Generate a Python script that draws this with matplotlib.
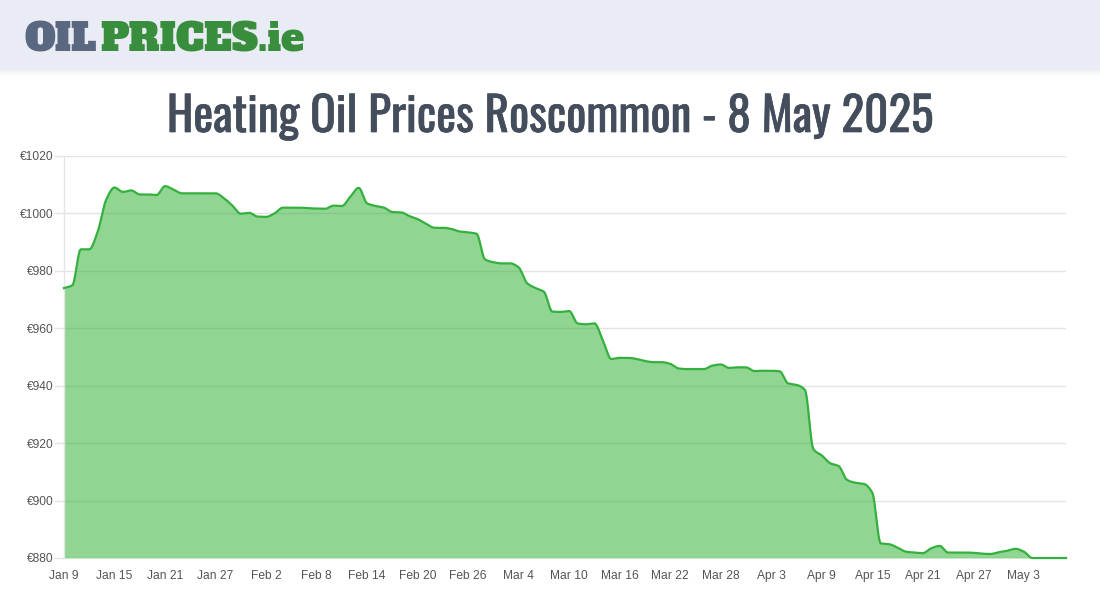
import numpy as np
import matplotlib
matplotlib.use("Agg")
import matplotlib.pyplot as plt
from matplotlib.patches import Rectangle
from matplotlib import patheffects as pe

prices = [974, 975, 987.5, 987.5, 993.6, 1004.7, 1009, 1007.5, 1008, 1006.6,
          1006.6, 1006.4, 1009.5, 1008.3, 1007, 1007, 1007, 1007, 1007, 1005.3,
          1002.7, 999.9, 1000.2, 998.9, 998.8, 1000, 1002, 1002, 1002, 1001.8,
          1001.7, 1001.6, 1002.7, 1002.6, 1005.8, 1008.9, 1003.5, 1002.6, 1002, 1000.5,
          1000.4, 999.1, 998, 996.4, 995, 995, 994.6, 993.7, 993.4, 992.9,
          984, 983, 982.6, 982.6, 981.2, 975.7, 974, 972.7, 965.8, 965.7,
          966, 961.7, 961.4, 961.7, 955.7, 949.3, 949.7, 949.7, 949.3, 948.6,
          948.2, 948.2, 947.6, 946, 945.8, 945.8, 945.8, 947, 947.4, 946.2,
          946.4, 946.4, 945.1, 945.2, 945.2, 945, 940.8, 940.3, 938.5, 917.9,
          915.7, 913, 912, 907.2, 906.2, 905.8, 902.7, 885.1, 884.8, 883.6,
          882.2, 881.9, 881.7, 883.4, 884.2, 881.9, 881.9, 881.9, 881.8, 881.5,
          881.4, 882, 882.5, 883.2, 882.2, 880, 880, 880, 880, 880]
y_ticks = [880, 900, 920, 940, 960, 980, 1000, 1020]
x_labels = ["Jan 9", "Jan 15", "Jan 21", "Jan 27", "Feb 2", "Feb 8", "Feb 14", "Feb 20",
            "Feb 26", "Mar 4", "Mar 10", "Mar 16", "Mar 22", "Mar 28", "Apr 3", "Apr 9",
            "Apr 15", "Apr 21", "Apr 27", "May 3"]
title_text = "Heating Oil Prices Roscommon - 8 May 2025"

plt.rcParams["font.family"] = ["Liberation Sans", "DejaVu Sans"]

W, H = 1100, 600
fig = plt.figure(figsize=(W / 100, H / 100), dpi=100, facecolor="white")

for k in range(10):
    a = 0.055 * (1 - k / 10) ** 2
    fig.add_artist(Rectangle((0, 1 - (70 + k + 1) / H), 1, 1 / H, transform=fig.transFigure,
                             facecolor="black", alpha=a, edgecolor="none"))
fig.add_artist(Rectangle((0, 1 - 70 / H), 1, 70 / H, transform=fig.transFigure,
                         facecolor="#e9ecf4", edgecolor="none"))

logo_font = ["Alfa Slab One", "DejaVu Serif"]
logo_kw = dict(fontfamily=logo_font, fontsize=28, va="baseline", ha="left")
fig.text(24 / W, 1 - 51.5 / H, "OIL", color="#5a6780", **logo_kw)
fig.text(100 / W, 1 - 51.5 / H, "PRICES.ie", color="#388e3c", **logo_kw)

fig.text(550 / W, 1 - 132 / H, title_text, fontfamily=["Oswald", "Liberation Sans"], fontsize=34,
         fontweight="medium", color="#434d5c", ha="center", va="baseline",
         path_effects=[pe.withStroke(linewidth=0.5, foreground="#434d5c")])

left, right, top, bottom = 64, 1066, 156, 558
ax = fig.add_axes([left / W, 1 - bottom / H, (right - left) / W, (bottom - top) / H])

y = np.array(prices, dtype=float)
x = np.arange(len(y), dtype=float)

# Monotone cubic drawing of the daily values
def monotone(xv, yv, n=12):
    d = np.diff(yv) / np.diff(xv)
    m = np.zeros_like(yv)
    m[0], m[-1] = d[0], d[-1]
    for i in range(1, len(yv) - 1):
        if d[i - 1] * d[i] > 0:
            m[i] = 2 * d[i - 1] * d[i] / (d[i - 1] + d[i])
    t = np.linspace(0, 1, n, endpoint=False)
    xs, ys = [], []
    for i in range(len(yv) - 1):
        h = xv[i + 1] - xv[i]
        xs.append(xv[i] + t * h)
        ys.append((2*t**3 - 3*t**2 + 1) * yv[i] + (t**3 - 2*t**2 + t) * h * m[i]
                  + (-2*t**3 + 3*t**2) * yv[i + 1] + (t**3 - t**2) * h * m[i + 1])
    xs.append([xv[-1]]); ys.append([yv[-1]])
    return np.concatenate(xs), np.concatenate(ys)

sx, sy = monotone(x, y)
ax.set_axisbelow(True)
ax.yaxis.grid(True, color="#e4e4e4", linewidth=1)
ax.fill_between(sx, 880, sy, color=(37/255, 173/255, 39/255), alpha=0.5, linewidth=0, zorder=2)
ax.plot(sx, sy, color="#33b03d", linewidth=1.6, zorder=3, clip_on=False, solid_joinstyle="round")

ax.set_xlim(0, len(y) - 1)
ax.set_ylim(880, 1020)
ax.set_yticks(y_ticks)
ax.set_yticklabels(["€%d" % v for v in y_ticks])
ax.set_xticks(np.arange(len(x_labels)) * 6)
ax.set_xticklabels(x_labels)
ax.tick_params(axis="y", length=7, width=1, color="#e4e4e4", labelsize=8.64, labelcolor="#555555", pad=0.5)
ax.tick_params(axis="x", length=0, labelsize=8.64, labelcolor="#555555", pad=8.5)
for s in ["top", "right", "bottom"]:
    ax.spines[s].set_visible(False)
ax.spines["left"].set_color("#e4e4e4")
ax.spines["left"].set_linewidth(1)

fig.savefig("out.png", dpi=100, facecolor="white")
